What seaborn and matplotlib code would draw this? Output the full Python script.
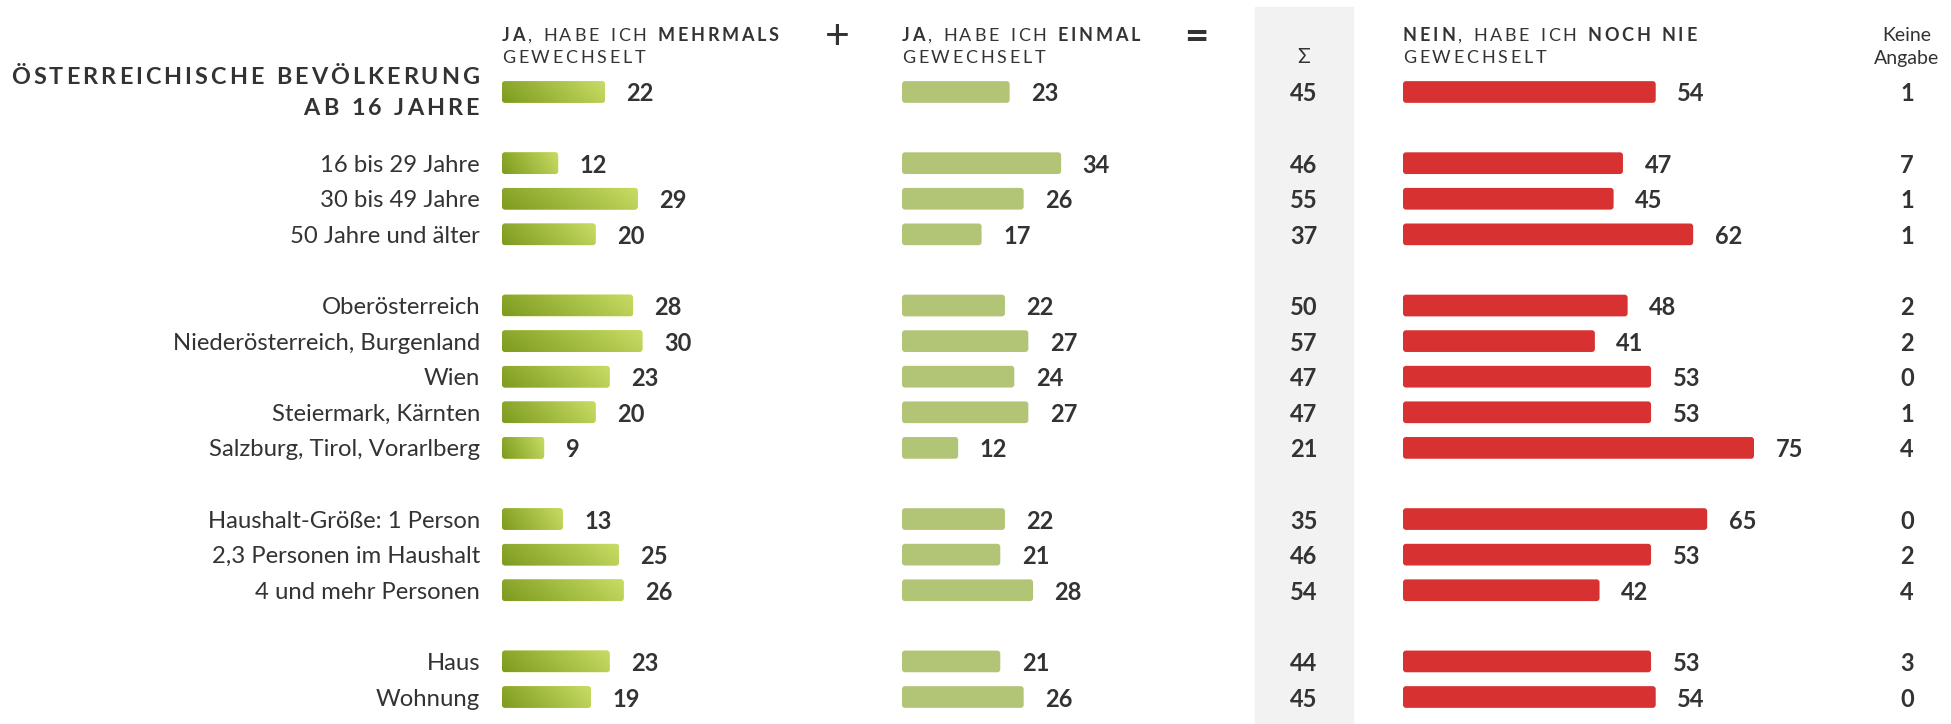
import numpy as np
import pandas as pd
import matplotlib
matplotlib.use("Agg")
import matplotlib.pyplot as plt
import matplotlib.transforms as mtransforms
from matplotlib.colors import LinearSegmentedColormap
from matplotlib.patches import Rectangle, FancyBboxPatch
import seaborn as sns

# data (percent)
labels = ["Österreichische Bevölkerung ab 16 Jahre",
          "16 bis 29 Jahre", "30 bis 49 Jahre", "50 Jahre und älter",
          "Oberösterreich", "Niederösterreich, Burgenland", "Wien",
          "Steiermark, Kärnten", "Salzburg, Tirol, Vorarlberg",
          "Haushalt-Größe: 1 Person", "2,3 Personen im Haushalt", "4 und mehr Personen",
          "Haus", "Wohnung"]
group_sizes = [1, 3, 5, 3, 2]
mehrmals = [22, 12, 29, 20, 28, 30, 23, 20, 9, 13, 25, 26, 23, 19]
einmal = [23, 34, 26, 17, 22, 27, 24, 27, 12, 22, 21, 28, 21, 26]
summe = [45, 46, 55, 37, 50, 57, 47, 47, 21, 35, 46, 54, 44, 45]
nie = [54, 47, 45, 62, 48, 41, 53, 53, 75, 65, 53, 42, 53, 54]
keine = [1, 7, 1, 1, 2, 2, 0, 1, 4, 0, 2, 4, 3, 0]

title_lines = ["ÖSTERREICHISCHE BEVÖLKERUNG", "AB 16 JAHRE"]
head_mehrmals = [("JA", "bold"), (", HABE ICH ", "normal"), ("MEHRMALS", "bold")]
head_einmal = [("JA", "bold"), (", HABE ICH ", "normal"), ("EINMAL", "bold")]
head_nie = [("NEIN", "bold"), (", HABE ICH ", "normal"), ("NOCH NIE", "bold")]
head_line2 = [("GEWECHSELT", "normal")]

TXT = "#333333"
GREEN_DARK = "#7d9b1f"
GREEN_LIGHT = "#c8dc64"
GREEN2 = "#b2c577"
RED = "#d83131"
BAND = "#f2f2f2"

# one empty row between groups
group_id = np.repeat(np.arange(len(group_sizes)), group_sizes)
pos = np.arange(len(labels)) + group_id

df = pd.DataFrame({"label": labels, "pos": pos, "mehrmals": mehrmals,
                   "einmal": einmal, "summe": summe, "nie": nie, "keine": keine})

sns.set_style("white")
plt.rcParams["font.family"] = ["Lato", "DejaVu Sans"]

W, H = 1951, 724
fig = plt.figure(figsize=(W / 100, H / 100), dpi=100)

# background axes in pixel coordinates
bg = fig.add_axes([0, 0, 1, 1])
bg.set_xlim(0, W)
bg.set_ylim(H, 0)
bg.axis("off")
bg.add_patch(Rectangle((1255, 7), 98, H - 7, color=BAND, zorder=0))

PPU = 4.68          # pixels per percent
ROW_TOP, ROW_BOT = 74.2, 714.8
NUM_SIZE = 17


def bar_axes(left_px, xmax):
    ax = fig.add_axes([left_px / W, (H - ROW_BOT) / H, xmax * PPU / W, (ROW_BOT - ROW_TOP) / H])
    ax.set_facecolor("none")
    return ax


def finish(ax, xmax):
    ax.set_xlim(0, xmax)
    ax.set_ylim(pos.max() + 0.5, -0.5)
    sns.despine(ax=ax, left=True, bottom=True)
    ax.set_xticks([])
    ax.set_xlabel("")
    ax.set_ylabel("")


def round_bars(ax, r_px=3):
    fancy = []
    for p in ax.patches[:]:
        x0, y0, w, h = p.get_x(), p.get_y(), p.get_width(), p.get_height()
        fb = FancyBboxPatch((x0, y0), w, h,
                            boxstyle=f"round,pad=0,rounding_size={r_px / PPU}",
                            mutation_aspect=(1 / 35.59) / (1 / PPU),
                            facecolor=p.get_facecolor(), edgecolor="none", zorder=2)
        ax.add_patch(fb)
        p.set_visible(False)
        fancy.append(fb)
    return fancy


ax1 = bar_axes(502, 40)
ax2 = bar_axes(902, 40)
ax3 = bar_axes(1403, 80)

for ax, col, color, xmax in [(ax1, "mehrmals", GREEN_LIGHT, 40),
                             (ax2, "einmal", GREEN2, 40),
                             (ax3, "nie", RED, 80)]:
    sns.barplot(data=df, x=col, y="pos", orient="h", native_scale=True, width=0.61,
                color=color, saturation=1, errorbar=None, ax=ax)
    texts = ax.bar_label(ax.containers[0], fmt="%d", padding=15.5, fontsize=NUM_SIZE,
                         fontweight="bold", color=TXT)
    for t in texts:
        t.set_va("center_baseline")
    fancy = round_bars(ax)
    if ax is ax1:
        cmap = LinearSegmentedColormap.from_list("grad", [GREEN_DARK, GREEN_LIGHT])
        u = np.linspace(0, 1, 200)[None, :]
        v = np.linspace(0, 1, 20)[:, None]
        grad = 0.82 * u + 0.18 * (1 - v)
        for fb in fancy:
            x0, y0 = fb.get_x(), fb.get_y()
            w, h = fb.get_width(), fb.get_height()
            im = ax.imshow(grad, cmap=cmap, extent=(x0, x0 + w, y0 + h, y0),
                           aspect="auto", interpolation="bicubic", zorder=3)
            im.set_clip_path(fb)
    finish(ax, xmax)

ax1.set_yticks(pos, [""] + labels[1:])
ax1.tick_params(axis="y", length=0, pad=15.8, labelsize=17.2, labelcolor=TXT)
for t in ax1.get_yticklabels():
    t.set_va("center_baseline")
ax2.set_yticks([])
ax3.set_yticks([])

# sum and "keine Angabe" columns
trans = mtransforms.blended_transform_factory(bg.transData, ax3.transData)
for p, s, k in zip(df["pos"], df["summe"], df["keine"]):
    ax3.text(1304, p, str(s), transform=trans, ha="center", va="center_baseline",
             fontsize=NUM_SIZE, fontweight="bold", color=TXT)
    ax3.text(1907, p, str(k), transform=trans, ha="center", va="center_baseline",
             fontsize=NUM_SIZE, fontweight="bold", color=TXT)


def tracked(x, y, parts, size, track, ha="left"):
    chars = [(c, w) for s, w in parts for c in s]
    if ha == "right":
        chars = chars[::-1]
    sign = 1 if ha == "left" else -1
    prev, gap = None, 0.0
    for c, w in chars:
        if c == " ":
            gap += 0.3 * size + track
            continue
        if prev is None:
            prev = bg.text(x, y, c, fontsize=size, fontweight=w, color=TXT,
                           ha=ha, va="baseline")
        else:
            prev = bg.annotate(c, xy=(1 if ha == "left" else 0, 0), xycoords=prev,
                               xytext=(sign * (track + gap), 0), textcoords="offset points",
                               fontsize=size, fontweight=w, color=TXT, ha=ha, va="bottom")
        gap = 0.0


tracked(479, 84, [(title_lines[0], "bold")], 16.8, 2.15, ha="right")
tracked(479, 115, [(title_lines[1], "bold")], 16.8, 2.15, ha="right")

for x0, head in [(502, head_mehrmals), (902, head_einmal), (1403, head_nie)]:
    tracked(x0, 41, head, 13, 2.0)
    tracked(x0, 63, head_line2, 13, 2.0)

bg.text(837, 49, "+", fontsize=31, fontweight="normal", color=TXT, ha="center", va="baseline")
bg.text(1196, 50, "=", fontsize=30, fontweight="bold", color=TXT, ha="center", va="baseline")
bg.text(1304, 63, "Σ", fontsize=15, color=TXT, ha="center", va="baseline")
bg.text(1907, 41, "Keine", fontsize=14, color=TXT, ha="center", va="baseline")
bg.text(1907, 64, "Angabe", fontsize=14, color=TXT, ha="center", va="baseline")

fig.savefig("out.png", dpi=100)
